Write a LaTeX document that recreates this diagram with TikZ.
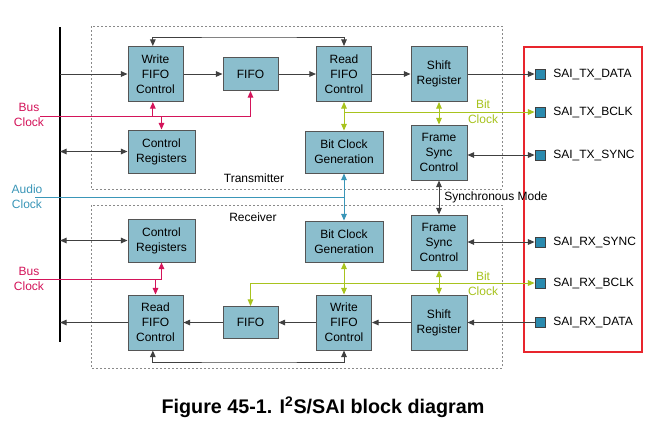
\documentclass[tikz,border=0pt]{standalone}
\usepackage{fontspec}
\setmainfont{Liberation Sans}
\usetikzlibrary{arrows.meta}
\definecolor{boxfill}{HTML}{8BBECD}
\definecolor{boxline}{HTML}{555555}
\definecolor{pinfill}{HTML}{2A8AAE}
\definecolor{busred}{HTML}{D4145A}
\definecolor{audioteal}{HTML}{3A96B8}
\definecolor{bitgreen}{HTML}{A8C31E}
\definecolor{framered}{HTML}{E8252D}
\definecolor{dotgray}{HTML}{8A8A8A}
\definecolor{wirecol}{HTML}{404040}
\begin{document}
\begin{tikzpicture}[x=0.75pt,y=-0.75pt,
  txt/.style={font=\fontsize{9}{11.25}\selectfont, inner sep=0pt, align=center},
  blk/.style 2 args={txt, draw=boxline, fill=boxfill, line width=0.75pt, minimum width=#1*0.75pt, minimum height=#2*0.75pt},
  pin/.style={draw=black!75, fill=pinfill, line width=0.6pt, minimum size=7.5pt, inner sep=0pt},
  ar/.style={-{Triangle[length=5pt,width=4.2pt]}},
  dar/.style={{Triangle[length=5pt,width=4.2pt]}-{Triangle[length=5pt,width=4.2pt]}},
  blackw/.style={draw=wirecol, line width=0.75pt},
  redw/.style={draw=busred, line width=0.75pt},
  tealw/.style={draw=audioteal, line width=0.75pt},
  greenw/.style={draw=bitgreen, line width=0.75pt},
  dotf/.style={draw=dotgray, line width=0.6pt, dash pattern=on 1.2pt off 1.8pt}
]
\useasboundingbox (0,0) rectangle (661,437);
\fill[white] (0,0) rectangle (661,437);

% frames
\draw[dotf] (91,26) rectangle (502,189);
\draw[dotf] (91,205) rectangle (502,368);
\draw[framered, line width=1.5pt] (524,47) rectangle (642,352);

% bus
\draw[line width=1.5pt] (60,27) coordinate (bustop) -- (60,342) coordinate (busbot);

% TX blocks
\node[blk={55}{55}] (twf) at (155.5,74) {Write\\FIFO\\Control};
\node[blk={55}{33}] (tfifo) at (250.5,74) {FIFO};
\node[blk={55}{55}] (trf) at (344,74) {Read\\FIFO\\Control};
\node[blk={56}{55}] (tsr) at (439,74) {Shift\\Register};
\node[blk={67}{43}] (tcr) at (161.5,151.5) {Control\\Registers};
\node[blk={78}{42}] (tbcg) at (344,152) {Bit Clock\\Generation};
\node[blk={56}{55}] (tfs) at (439,152.5) {Frame\\Sync\\Control};

% RX blocks
\node[blk={67}{43}] (rcr) at (161.5,240.5) {Control\\Registers};
\node[blk={78}{41}] (rbcg) at (344,241.5) {Bit Clock\\Generation};
\node[blk={56}{55}] (rfs) at (439,242.5) {Frame\\Sync\\Control};
\node[blk={55}{55}] (rrf) at (155.5,322.5) {Read\\FIFO\\Control};
\node[blk={55}{32}] (rfifo) at (250.5,322.5) {FIFO};
\node[blk={55}{55}] (rwf) at (344,322.5) {Write\\FIFO\\Control};
\node[blk={56}{55}] (rsr) at (439,322.5) {Shift\\Register};

% pins
\node[pin] (ptd) at (540,74) {};
\node[pin] (ptb) at (540,112) {};
\node[pin] (pts) at (540,155) {};
\node[pin] (prs) at (540,242) {};
\node[pin] (prb) at (540,283) {};
\node[pin] (prd) at (540,322.5) {};
\node[txt, anchor=west] (lptd) at (553,74) {SAI\_TX\_DATA};
\node[txt, anchor=west] (lptb) at (553,112) {SAI\_TX\_BCLK};
\node[txt, anchor=west] (lpts) at (553,155) {SAI\_TX\_SYNC};
\node[txt, anchor=west] (lprs) at (553,242) {SAI\_RX\_SYNC};
\node[txt, anchor=west] (lprb) at (553,283) {SAI\_RX\_BCLK};
\node[txt, anchor=west] (lprd) at (553,322.5) {SAI\_RX\_DATA};

% helper coordinates
\coordinate (twfs) at ([xshift=-2pt]twf.south);
\coordinate (twfn) at ([xshift=-2pt]twf.north);
\coordinate (rrfs) at ([xshift=-2pt]rrf.south);
\coordinate (fbt) at (250,37);
\coordinate (fbr) at (250,362);
\coordinate (bct) at (40,116);
\coordinate (bcr) at (29,279);
\coordinate (act) at (35,197);

% TX data path
\draw[blackw, ar] (twf.west -| bustop) -- (twf.west);
\draw[blackw, ar] (twf.east) -- (tfifo.west);
\draw[blackw, ar] (tfifo.east) -- (trf.west);
\draw[blackw, ar] (trf.east) -- (tsr.west);
\draw[blackw, ar] (tsr.east) -- (ptd.west);
\draw[blackw, dar] (tcr.west -| bustop) -- (tcr.west);
\draw[blackw, dar] (twfn) |- (fbt) -| (trf.north);

% TX bus clock
\draw[redw, ar] (bct) -| (tfifo.south);
\draw[redw, ar] (twfs |- bct) -- (twfs);
\draw[redw, ar] (tcr.north |- bct) -- (tcr.north);

% audio clock
\draw[tealw] (act) -- (act -| tbcg.south);
\draw[tealw, dar] (tbcg.south) -- (rbcg.north);

% TX bit clock
\draw[greenw, dar] (trf.south) -- (tbcg.north);
\draw[greenw, ar] (trf.south |- ptb) -- (ptb.west);
\draw[greenw, dar] (tsr.south) -- (tfs.north);
\draw[blackw, dar] (tfs.east |- pts) -- (pts.west);

% synchronous mode
\draw[blackw, dar] (tfs.south) -- (rfs.north);

% RX
\draw[blackw, dar] (rcr.west -| bustop) -- (rcr.west);
\draw[blackw, dar] (rfs.east |- prs) -- (prs.west);
\draw[greenw, dar] (rbcg.south) -- (rwf.north);
\draw[greenw, dar] (rfs.south) -- (rsr.north);
\draw[greenw, dar] (rfifo.north) |- (prb.west);
\draw[redw, ar] (bcr) -| (rcr.south);
\draw[redw, ar] (rrf.north |- bcr) -- (rrf.north);
\draw[blackw, ar] (prd.west) -- (rsr.east);
\draw[blackw, ar] (rsr.west) -- (rwf.east);
\draw[blackw, ar] (rwf.west) -- (rfifo.east);
\draw[blackw, ar] (rfifo.west) -- (rrf.east);
\draw[blackw, ar] (rrf.west) -- (rrf.west -| bustop);
\draw[blackw, dar] (rrfs) |- (fbr) -| (rwf.south);

% labels
\node[txt, text=busred] (bclk1) at (29,114.5) {Bus\\Clock};
\node[txt, text=audioteal] (aclk) at (27,196.5) {Audio\\Clock};
\node[txt, text=busred] (bclk2) at (29,278.5) {Bus\\Clock};
\node[txt, text=bitgreen] (bit1) at (483,111.5) {Bit\\Clock};
\node[txt, text=bitgreen] (bit2) at (483,283.5) {Bit\\Clock};
\node[txt] (txl) at (254,178) {Transmitter};
\node[txt] (rxl) at (253,217) {Receiver};
\node[txt, anchor=west] (sync) at (444,197) {Synchronous Mode};
\node[font=\fontsize{14.8}{17}\selectfont\bfseries, inner sep=0pt] (cap) at (323,407) {Figure 45-1. I\textsuperscript{2}S/SAI block diagram};
\end{tikzpicture}
\end{document}
